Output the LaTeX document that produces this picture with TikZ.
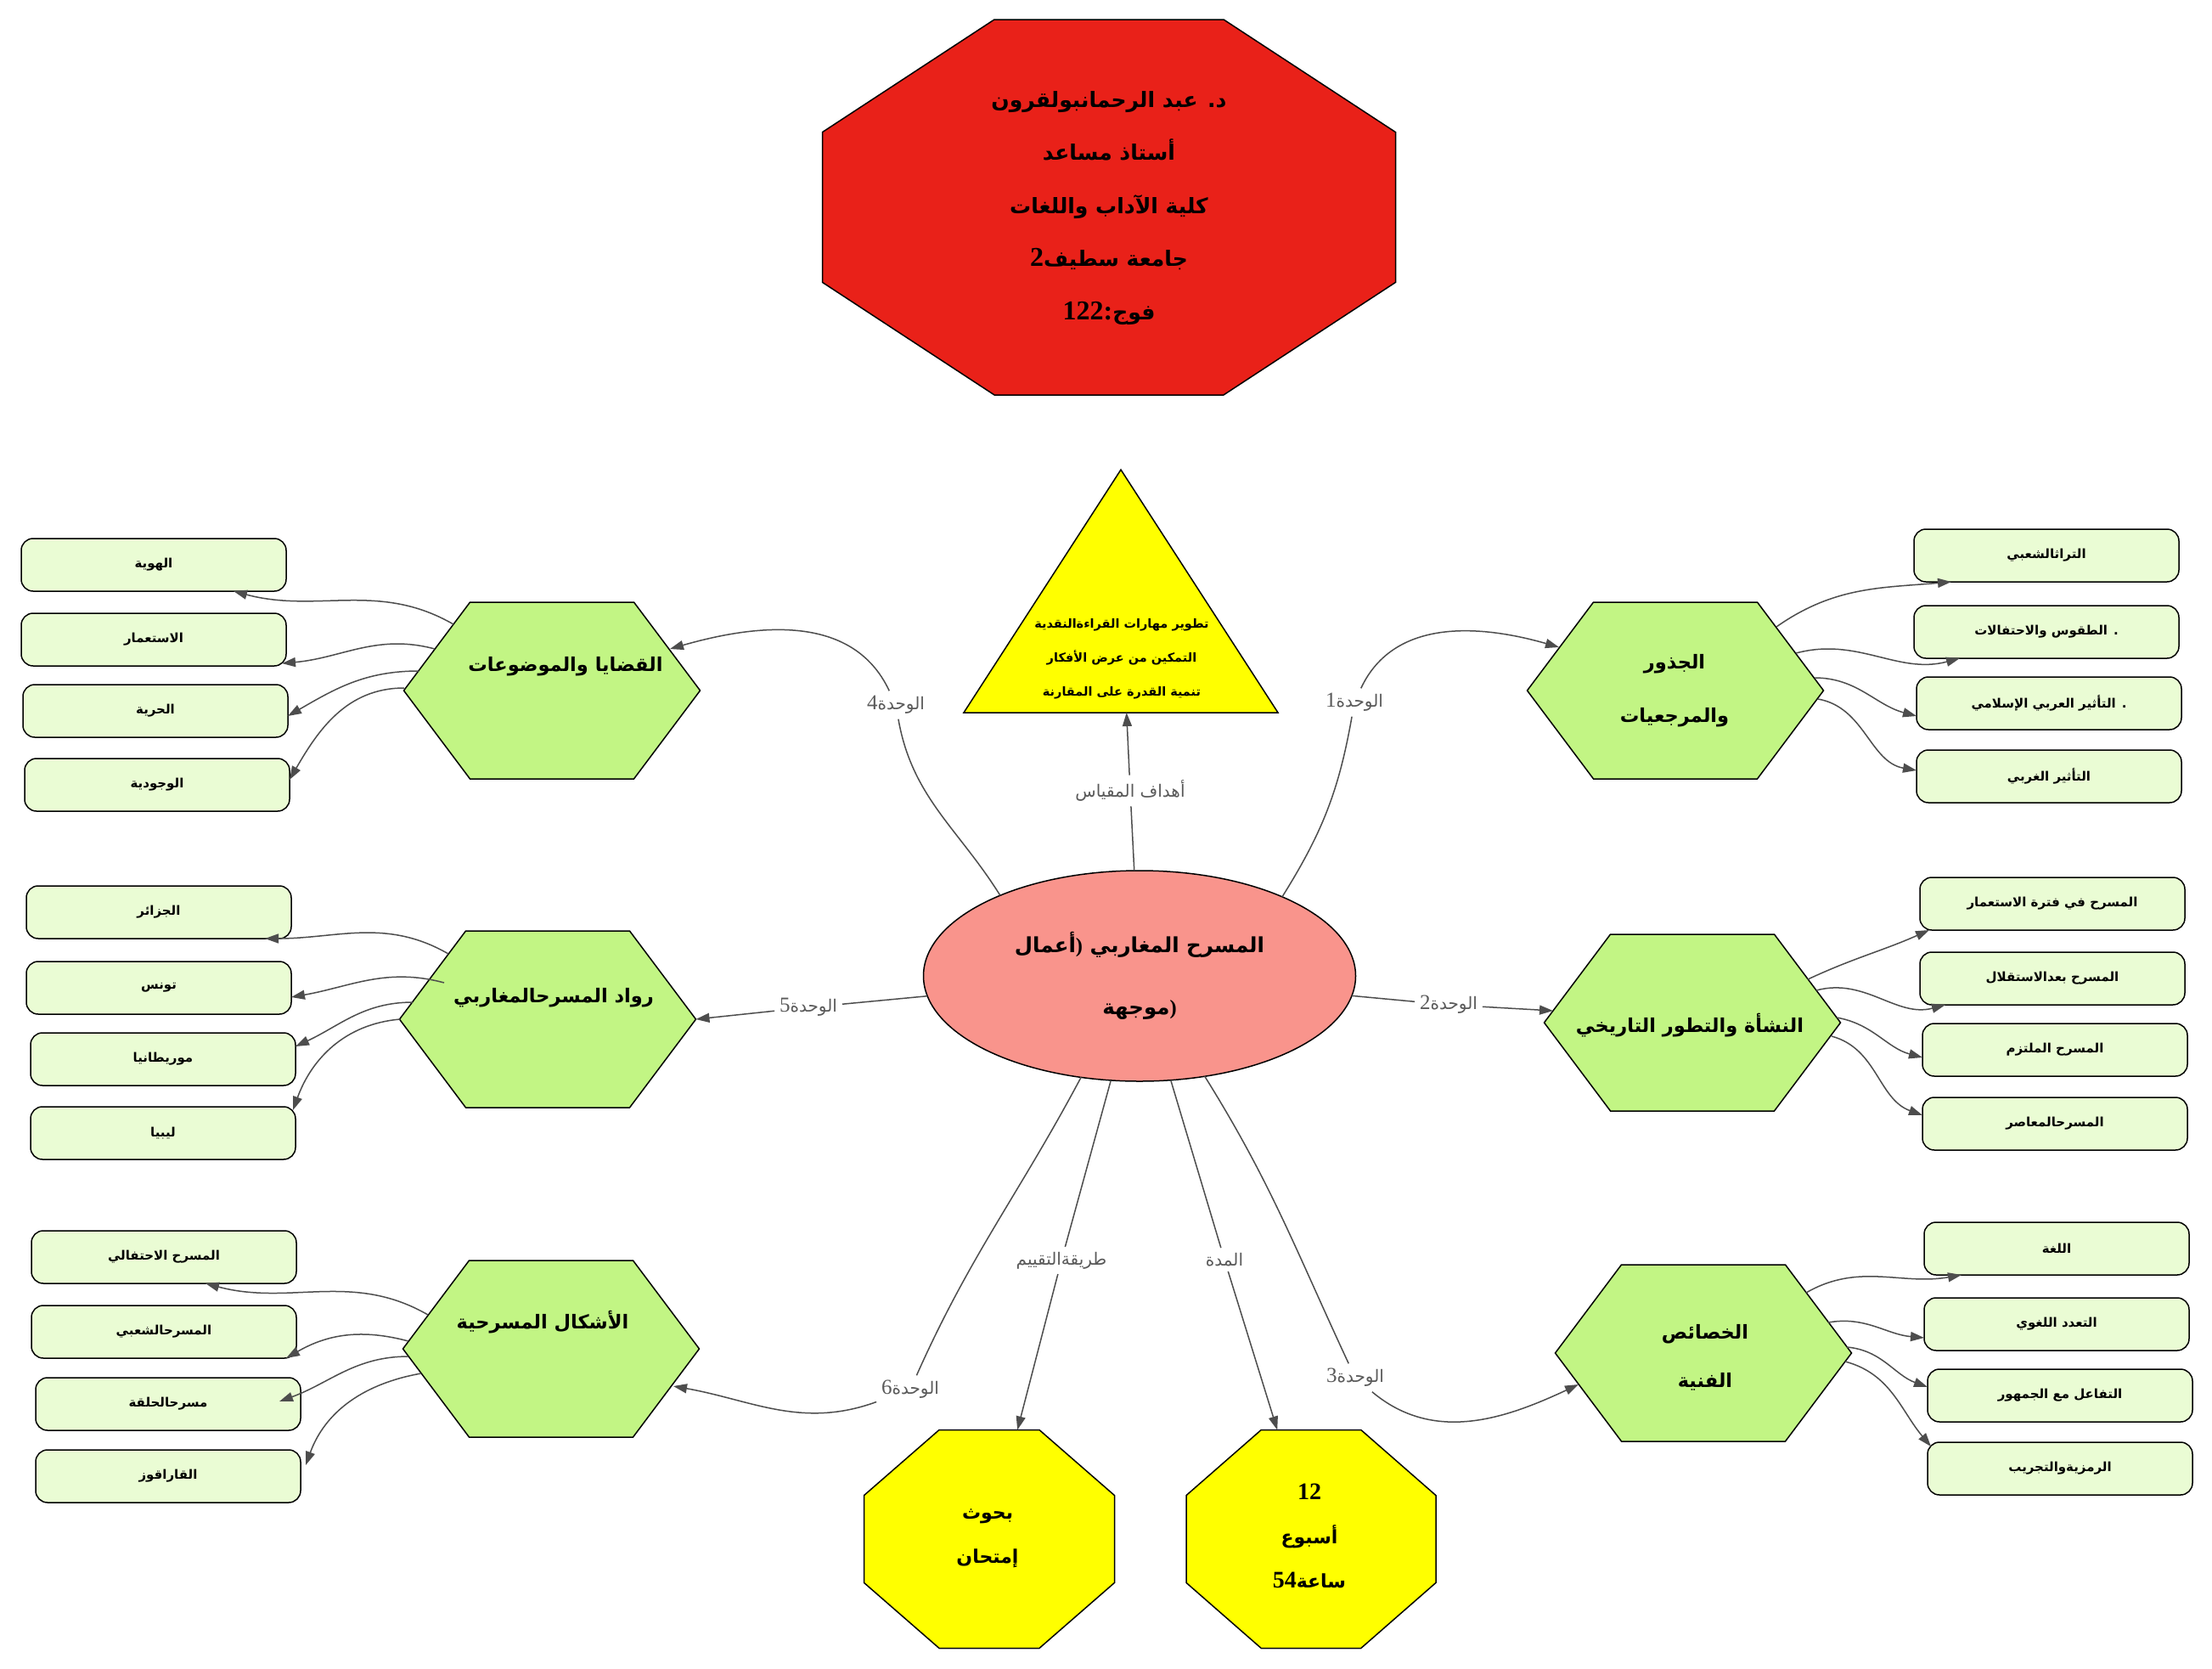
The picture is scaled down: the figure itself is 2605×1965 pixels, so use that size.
\documentclass[tikz,border=0pt]{standalone}
\usepackage{fontspec}
\newfontfamily\ar[Script=Arabic]{DejaVu Sans}
\newfontfamily\lat{Liberation Serif}
\TeXXeTstate=1
\usetikzlibrary{arrows.meta,calc,backgrounds,shapes.geometric}
\definecolor{edgec}{RGB}{77,77,77}
\definecolor{labc}{RGB}{90,90,90}
\definecolor{hexc}{RGB}{194,245,132}
\definecolor{boxc}{RGB}{234,252,212}
\definecolor{ellc}{RGB}{249,148,140}
\definecolor{yelc}{RGB}{255,255,0}
\definecolor{redc}{RGB}{233,33,25}
\newcommand\artxt[1]{\beginR#1\endR}
\newcommand\octshape[2]{\draw[#2] ($(#1.north west)!0.3!(#1.north east)$) -- ($(#1.north west)!0.7!(#1.north east)$) -- ($(#1.north east)!0.3!(#1.south east)$) -- ($(#1.north east)!0.7!(#1.south east)$) -- ($(#1.south east)!0.3!(#1.south west)$) -- ($(#1.south east)!0.7!(#1.south west)$) -- ($(#1.south west)!0.3!(#1.north west)$) -- ($(#1.south west)!0.7!(#1.north west)$) -- cycle;}
\newcommand\hexshape[1]{\draw[hexfill] (#1.west) -- ([xshift=78pt]#1.north west) -- ([xshift=-78pt]#1.north east) -- (#1.east) -- ([xshift=-78pt]#1.south east) -- ([xshift=78pt]#1.south west) -- cycle;}
\begin{document}
\begin{tikzpicture}[x=1pt,y=1pt,
 every node/.style={inner sep=0pt,outer sep=0pt},
 outline/.style={draw=black,line width=1.5pt},
 hexfill/.style={outline,fill=hexc},
 hexframe/.style={minimum width=349pt,minimum height=208pt},
 hextext/.style={font=\ar\bfseries\fontsize{22.5}{60}\selectfont,align=center},
 box/.style={outline,fill=boxc,rounded corners=14pt,minimum width=312pt,minimum height=62pt,font=\ar\bfseries\fontsize{15}{20}\selectfont},
 lab/.style={font=\ar\fontsize{20}{24}\selectfont,text=labc,inner sep=6pt},
 edge/.style={draw=edgec,line width=1.5pt},
 arr/.style={edge,-{Triangle[length=16pt,width=11pt]}},
 octtext/.style={font=\ar\bfseries\fontsize{22}{52}\selectfont,align=center}]
\useasboundingbox (0,0) rectangle (2605,-1965);
\begin{pgfonlayer}{background}
\fill[white] (0,0) rectangle (2605,-1965);
\end{pgfonlayer}

% top red octagon
\node[minimum width=675pt,minimum height=442pt] (red) at (1306,-244) {};
\node[font=\ar\bfseries\fontsize{25}{62.5}\selectfont,align=center] (redt) at (1306,-245)
 {\artxt{د. عبد الرحمانبولقرون}\\ \artxt{أستاذ مساعد}\\ \artxt{كلية الآداب واللغات}\\ {\lat\fontsize{32}{62.5}\selectfont 2}\artxt{جامعة سطيف}\\ {\lat\fontsize{32}{62.5}\selectfont 122:}\artxt{فوج}};

% triangle
\node[minimum width=370pt,minimum height=286pt] (tri) at (1320,-696) {};
\node[font=\ar\bfseries\fontsize{14.5}{40}\selectfont,align=center] (trit) at (1321,-776)
 {\artxt{تطوير مهارات القراءةالنقدية}\\ \artxt{التمكين من عرض الأفكار}\\ \artxt{تنمية القدرة على المقارنة}};

% centre ellipse
\node[ellipse,outline,fill=ellc,minimum width=509pt,minimum height=248pt,font=\ar\bfseries\fontsize{24.5}{73}\selectfont,align=center] (c) at (1342,-1149)
 {\artxt{أعمال}{\lat)}\ \artxt{المسرح المغاربي}\\ \artxt{موجهة}{\lat)}};

% hexagon frames and texts
\node[hexframe] (h1) at (1973,-813) {};
\node[hextext,font=\ar\bfseries\fontsize{22.5}{63}\selectfont] (h1t) at (1972,-813) {\artxt{الجذور}\\ \artxt{والمرجعيات}};
\node[hexframe] (h2) at (1993,-1204) {};
\node[hextext] (h2t) at (1990,-1207) {\artxt{النشأة والتطور التاريخي}};
\node[hexframe] (h3) at (2006,-1593) {};
\node[hextext,font=\ar\bfseries\fontsize{22.5}{57}\selectfont] (h3t) at (2008,-1598) {\artxt{الخصائص}\\ \artxt{الفنية}};
\node[hexframe] (h4) at (650,-813) {};
\node[hextext] (h4t) at (666,-785) {\artxt{القضايا والموضوعات}};
\node[hexframe] (h5) at (645,-1200) {};
\node[hextext] (h5t) at (652,-1175) {\artxt{رواد المسرحالمغاربي}};
\node[hexframe] (h6) at (649,-1588) {};
\node[hextext] (h6t) at (639,-1557) {\artxt{الأشكال المسرحية}};

% bottom octagons
\node[minimum width=295pt,minimum height=257pt] (o1) at (1165,-1812) {};
\node[octtext] (o1t) at (1163,-1811) {\artxt{بحوث}\\ \artxt{إمتحان}};
\node[minimum width=294pt,minimum height=257pt] (o2) at (1544,-1812) {};
\node[octtext] (o2t) at (1542,-1808) {{\lat\fontsize{28}{52}\selectfont 12}\\ \artxt{أسبوع}\\ {\lat\fontsize{28}{52}\selectfont 54}\artxt{ساعة}};

% boxes right
\node[box] (b11) at (2410,-654) {\artxt{التراثالشعبي}};
\node[box] (b12) at (2410,-744) {\artxt{. الطقوس والاحتفالات}};
\node[box] (b13) at (2413,-828) {\artxt{. التأثير العربي الإسلامي}};
\node[box] (b14) at (2413,-914) {\artxt{التأثير الغربي}};
\node[box] (b21) at (2417,-1064) {\artxt{المسرح في فترة الاستعمار}};
\node[box] (b22) at (2417,-1152) {\artxt{المسرح بعدالاستقلال}};
\node[box] (b23) at (2420,-1236) {\artxt{المسرح الملتزم}};
\node[box] (b24) at (2420,-1323) {\artxt{المسرحالمعاصر}};
\node[box] (b31) at (2422,-1470) {\artxt{اللغة}};
\node[box] (b32) at (2422,-1559) {\artxt{التعدد اللغوي}};
\node[box] (b33) at (2426,-1643) {\artxt{التفاعل مع الجمهور}};
\node[box] (b34) at (2426,-1729) {\artxt{الرمزيةوالتجريب}};
% boxes left
\node[box] (b41) at (181,-665) {\artxt{الهوية}};
\node[box] (b42) at (181,-753) {\artxt{الاستعمار}};
\node[box] (b43) at (183,-837) {\artxt{الحرية}};
\node[box] (b44) at (185,-924) {\artxt{الوجودية}};
\node[box] (b51) at (187,-1074) {\artxt{الجزائر}};
\node[box] (b52) at (187,-1163) {\artxt{تونس}};
\node[box] (b53) at (192,-1247) {\artxt{موريطانيا}};
\node[box] (b54) at (192,-1334) {\artxt{ليبيا}};
\node[box] (b61) at (193,-1480) {\artxt{المسرح الاحتفالي}};
\node[box] (b62) at (193,-1568) {\artxt{المسرحالشعبي}};
\node[box] (b63) at (198,-1653) {\artxt{مسرحالحلقة}};
\node[box] (b64) at (198,-1738) {\artxt{القاراقوز}};

% edge labels
\node[lab] (g0) at (1331,-931) {\artxt{أهداف المقياس}};
\node[lab] (u1) at (1595,-827) {{\lat\fontsize{25}{24}\selectfont 1}\artxt{الوحدة}};
\node[lab] (u2) at (1706,-1183) {{\lat\fontsize{25}{24}\selectfont 2}\artxt{الوحدة}};
\node[lab] (u3) at (1596,-1622) {{\lat\fontsize{25}{24}\selectfont 3}\artxt{الوحدة}};
\node[lab] (u4) at (1055,-830) {{\lat\fontsize{25}{24}\selectfont 4}\artxt{الوحدة}};
\node[lab] (u5) at (952,-1186) {{\lat\fontsize{25}{24}\selectfont 5}\artxt{الوحدة}};
\node[lab] (u6) at (1072,-1636) {{\lat\fontsize{25}{24}\selectfont 6}\artxt{الوحدة}};
\node[lab] (ut) at (1250,-1484) {\artxt{طريقةالتقييم}};
\node[lab] (ud) at (1442,-1483) {\artxt{المدة}};

% shapes behind texts
\begin{pgfonlayer}{background}
\octshape{red}{outline,fill=redc}
\octshape{o1}{outline,fill=yelc}
\octshape{o2}{outline,fill=yelc}
\draw[outline,fill=yelc] (tri.north) -- (tri.south east) -- (tri.south west) -- cycle;
\hexshape{h1}\hexshape{h2}\hexshape{h3}\hexshape{h4}\hexshape{h5}\hexshape{h6}
\end{pgfonlayer}

% attachment points on hexagons
\coordinate (h1w) at (1836,-762);
\coordinate (h2w) at (1829,-1190);
\coordinate (h3w) at (1859,-1630);
\coordinate (h4e) at (789,-764);
\coordinate (h6e) at (793,-1632);
\coordinate (s11) at (2092,-738);
\coordinate (s12) at (2115,-769);
\coordinate (s13) at (2137,-798);
\coordinate (s14) at (2141,-823);
\coordinate (s21) at (2129,-1153);
\coordinate (s22) at (2139,-1166);
\coordinate (s23) at (2163,-1198);
\coordinate (s24) at (2157,-1220);
\coordinate (s31) at (2127,-1522);
\coordinate (s32) at (2153,-1557);
\coordinate (s33) at (2175,-1586);
\coordinate (s34) at (2173,-1603);
\coordinate (s41) at (534,-735);
\coordinate (s42) at (512,-764);
\coordinate (s43) at (493,-790);
\coordinate (s44) at (476,-810);
\coordinate (s51) at (528,-1123);
\coordinate (s52) at (523,-1157);
\coordinate (s53) at (486,-1180);
\coordinate (s54) at (471,-1200);
\coordinate (s61) at (504,-1548);
\coordinate (s62) at (481,-1579);
\coordinate (s63) at (481,-1597);
\coordinate (s64) at (496,-1617);

% centre connectors
\draw[edge] (c) -- (g0);
\draw[arr] (g0) -- (tri);
\draw[edge] (c.29) to[out=58,in=260] (u1);
\draw[arr] (u1) to[out=65,in=164] (h1w);
\draw[edge] (c) -- (u2);
\draw[arr] (u2) -- (h2w);
\draw[edge] (c.-57) to[out=-58,in=115] (u3);
\draw[arr] (u3) to[out=-40,in=205] (h3w);
\draw[edge] (c.150) to[out=122,in=280] (u4);
\draw[arr] (u4) to[out=115,in=16] (h4e);
\draw[edge] (c) -- (u5);
\draw[arr] (u5) -- (h5.east);
\draw[edge] (c.-120) to[out=-118,in=66] (u6);
\draw[arr] (u6) to[out=200,in=-10] (h6e);
\draw[edge] (c) -- (ut);
\draw[arr] (ut) -- (o1);
\draw[edge] (c) -- (ud);
\draw[arr] (ud) -- (o2);

% hexagon to box connectors
\draw[arr] (s11) to[out=35,in=185] ([xshift=44pt]b11.south west);
\draw[arr] (s12) to[out=15,in=195] ([xshift=54pt]b12.south west);
\draw[arr] (s13) to[out=0,in=165] ([yshift=-15pt]b13.west);
\draw[arr] (s14) to[out=-10,in=170] ([yshift=7pt]b14.west);
\draw[arr] (s21) to[out=25,in=204] ([xshift=11pt]b21.south west);
\draw[arr] (s22) to[out=15,in=195] ([xshift=30pt]b22.south west);
\draw[arr] (s23) to[out=-10,in=165] ([yshift=-9pt]b23.west);
\draw[arr] (s24) to[out=-15,in=160] ([yshift=10pt]b24.west);
\draw[arr] (s31) to[out=30,in=190] ([xshift=44pt]b31.south west);
\draw[arr] (s32) to[out=10,in=175] ([yshift=-16pt]b32.west);
\draw[arr] (s33) to[out=-5,in=160] ([yshift=10pt]b33.west);
\draw[arr] (s34) to[out=-15,in=130] ([xshift=4pt,yshift=-5pt]b34.north west);
\draw[arr] (s41) to[out=150,in=-15] ([xshift=-62pt]b41.south east);
\draw[arr] (s42) to[out=165,in=5] ([xshift=-5pt,yshift=-28pt]b42.east);
\draw[arr] (s43) to[out=180,in=30] ([yshift=-6pt]b43.east);
\draw[arr] (s44) to[out=180,in=60] ([yshift=6pt]b44.east);
\draw[arr] (s51) to[out=150,in=0] ([xshift=-31pt]b51.south east);
\draw[arr] (s52) to[out=165,in=10] ([yshift=-11pt]b52.east);
\draw[arr] (s53) to[out=180,in=25] ([yshift=15pt]b53.east);
\draw[arr] (s54) to[out=185,in=70] ([xshift=-3pt,yshift=-4pt]b54.north east);
\draw[arr] (s61) to[out=150,in=-15] ([xshift=-107pt]b61.south east);
\draw[arr] (s62) to[out=165,in=30] ([xshift=-12pt]b62.south east);
\draw[arr] (s63) to[out=180,in=20] ([xshift=-25pt,yshift=3pt]b63.east);
\draw[arr] (s64) to[out=190,in=70] ([xshift=6pt,yshift=13pt]b64.east);
\end{tikzpicture}
\end{document}
